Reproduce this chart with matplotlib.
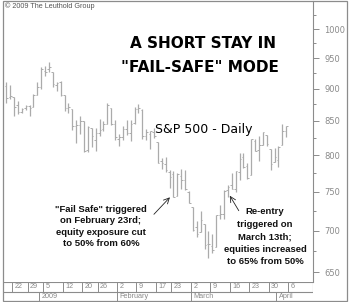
import matplotlib
matplotlib.use("Agg")
import matplotlib.pyplot as plt
from matplotlib.ticker import FixedLocator, NullFormatter, FixedFormatter
from matplotlib.patches import Rectangle
import numpy as np

# ---------------- data ----------------
dates = ["2008-12-18", "2008-12-19", "2008-12-22", "2008-12-23", "2008-12-24", "2008-12-26",
         "2008-12-29", "2008-12-30", "2008-12-31", "2009-01-02", "2009-01-05", "2009-01-06",
         "2009-01-07", "2009-01-08", "2009-01-09", "2009-01-12", "2009-01-13", "2009-01-14",
         "2009-01-15", "2009-01-16", "2009-01-20", "2009-01-21", "2009-01-22", "2009-01-23",
         "2009-01-26", "2009-01-27", "2009-01-28", "2009-01-29", "2009-01-30", "2009-02-02",
         "2009-02-03", "2009-02-04", "2009-02-05", "2009-02-06", "2009-02-09", "2009-02-10",
         "2009-02-11", "2009-02-12", "2009-02-13", "2009-02-17", "2009-02-18", "2009-02-19",
         "2009-02-20", "2009-02-23", "2009-02-24", "2009-02-25", "2009-02-26", "2009-02-27",
         "2009-03-02", "2009-03-03", "2009-03-04", "2009-03-05", "2009-03-06", "2009-03-09",
         "2009-03-10", "2009-03-11", "2009-03-12", "2009-03-13", "2009-03-16", "2009-03-17",
         "2009-03-18", "2009-03-19", "2009-03-20", "2009-03-23", "2009-03-24", "2009-03-25",
         "2009-03-26", "2009-03-27", "2009-03-30", "2009-03-31", "2009-04-01", "2009-04-02",
         "2009-04-03"]
opens = [904.0, 887.0, 887.2, 874.3, 863.9, 869.5, 872.4, 870.6, 890.6, 903.0, 929.2, 931.2,
         927.5, 905.7, 909.9, 890.4, 869.8, 867.3, 842.0, 844.5, 849.6, 806.8, 839.7, 822.2,
         832.5, 837.3, 845.7, 868.9, 845.7, 823.1, 825.7, 837.8, 831.8, 846.1, 868.2, 866.9,
         827.4, 829.9, 834.0, 818.6, 791.1, 787.9, 775.9, 773.3, 744.7, 770.6, 765.8, 749.9,
         729.6, 704.4, 698.6, 708.3, 684.0, 680.8, 679.3, 719.6, 720.9, 752.0, 758.8, 753.9,
         776.0, 797.9, 784.6, 772.3, 820.6, 806.8, 814.1, 828.7, 809.1, 790.9, 793.6, 814.5,
         835.1]
highs = [911.0, 905.5, 887.4, 880.4, 869.8, 873.7, 873.7, 891.1, 910.3, 934.7, 936.6, 943.9,
         927.5, 910.0, 911.9, 890.4, 877.0, 867.3, 851.6, 858.1, 849.6, 841.7, 839.7, 838.6,
         852.5, 850.5, 877.9, 868.9, 851.7, 830.8, 842.6, 851.9, 850.6, 870.8, 875.0, 868.1,
         838.2, 835.5, 839.4, 818.6, 796.2, 797.6, 778.7, 777.9, 775.5, 780.1, 779.4, 751.3,
         729.6, 711.7, 724.1, 708.3, 699.1, 695.3, 719.6, 731.9, 752.6, 758.3, 774.5, 778.1,
         803.0, 803.2, 788.9, 823.4, 823.7, 826.8, 833.0, 828.7, 809.1, 810.5, 813.6, 845.6,
         842.5]
lows = [877.4, 883.0, 857.1, 860.1, 861.4, 866.5, 857.1, 870.6, 889.3, 899.4, 919.5, 927.3,
        902.4, 896.8, 888.3, 864.3, 862.0, 836.9, 817.0, 830.7, 804.5, 804.3, 811.3, 806.1,
        827.7, 835.4, 845.7, 844.2, 821.7, 812.9, 822.0, 829.2, 819.9, 845.4, 861.7, 823.0,
        822.3, 808.1, 825.2, 789.2, 780.4, 777.0, 754.3, 742.4, 744.7, 752.9, 751.8, 734.5,
        699.7, 692.3, 698.6, 677.9, 666.8, 672.9, 679.3, 713.9, 714.8, 742.5, 753.4, 749.9,
        765.6, 781.8, 766.2, 772.3, 805.5, 791.4, 814.1, 813.4, 779.8, 790.9, 783.3, 814.5,
        826.7]
closes = [885.3, 887.9, 871.6, 863.2, 868.2, 872.8, 869.4, 890.6, 903.3, 931.8, 927.5, 934.7,
          906.7, 909.7, 890.4, 870.3, 871.8, 842.6, 843.7, 850.1, 805.2, 840.2, 827.5, 832.0,
          836.6, 845.7, 874.1, 845.1, 825.9, 825.4, 838.5, 832.2, 845.9, 868.6, 869.9, 827.2,
          833.7, 835.2, 826.8, 789.2, 788.4, 778.9, 770.1, 743.3, 773.1, 764.9, 752.8, 735.1,
          700.8, 696.3, 712.9, 682.6, 683.4, 676.5, 719.6, 721.4, 750.7, 756.6, 753.9, 778.1,
          794.4, 784.0, 768.5, 822.9, 806.1, 813.9, 832.9, 815.9, 787.5, 797.9, 811.1, 834.4,
          842.5]

week_dates = ["2008-12-22", "2008-12-29", "2009-01-05", "2009-01-12", "2009-01-20", "2009-01-26",
              "2009-02-02", "2009-02-09", "2009-02-17", "2009-02-23", "2009-03-02", "2009-03-09",
              "2009-03-16", "2009-03-23", "2009-03-30", "2009-04-06"]
week_labels = ["22", "29", "5", "12", "20", "26", "2", "9", "17", "23", "2", "9", "16", "23", "30", "6"]
month_dates = ["2009-01-02", "2009-02-02", "2009-03-02", "2009-04-01"]
month_labels = ["2009", "February", "March", "April"]
holidays = ["2008-12-25", "2009-01-01", "2009-01-19", "2009-02-16", "2009-04-10"]

y_major = [650, 700, 750, 800, 850, 900, 950, 1000]
y_minor = [675, 725, 775, 825, 875, 925, 975, 1025]

title_lines = ["A SHORT STAY IN", "\"FAIL-SAFE\" MODE"]
subtitle = "S&P 500 - Daily"
note1 = "\"Fail Safe\" triggered\non February 23rd;\nequity exposure cut\nto 50% from 60%"
note2 = "Re-entry\ntriggered on\nMarch 13th;\nequities increased\nto 65% from 50%"
copyright_txt = "\u00a9 2009 The Leuthold Group"

# ---------------- helpers ----------------
W, H = 350, 302
start = dates[0]


def pos(d):
    return float(np.busday_count(start, d, holidays=holidays))


xs = np.array([pos(d) for d in dates])
bar_col = "#ababab"
frame_col = "#8c8c8c"
label_col = "#8a8a8a"

fig = plt.figure(figsize=(W / 100, H / 100), dpi=100)
fig.patch.set_facecolor("white")

ax = fig.add_axes([3 / W, (H - 282) / H, 310 / W, 281 / H])
ax.set_yscale("log")
ax.set_xlim(-0.83, 78.9)
ax.set_ylim(639, 1051)

# OHLC bars
ax.vlines(xs, lows, highs, color=bar_col, lw=0.9)
ax.hlines(opens, xs - 0.4, xs, color=bar_col, lw=0.7)
ax.hlines(closes, xs, xs + 0.4, color=bar_col, lw=0.7)

ax.yaxis.set_major_locator(FixedLocator(y_major))
ax.yaxis.set_major_formatter(FixedFormatter([str(v) for v in y_major]))
ax.yaxis.set_minor_locator(FixedLocator(y_minor))
ax.yaxis.set_minor_formatter(NullFormatter())
ax.yaxis.tick_right()
ax.tick_params(axis="y", which="major", direction="out", length=4.5, width=0.7,
               colors=frame_col, labelsize=6, labelcolor=label_col, pad=3.5)
ax.tick_params(axis="y", which="minor", direction="out", length=2, width=0.7, colors=frame_col)
ax.set_xticks([])
for s in ["left", "top", "bottom"]:
    ax.spines[s].set_visible(False)
ax.spines["right"].set_color(frame_col)
ax.spines["right"].set_linewidth(0.8)

# date band
bx = fig.add_axes([3 / W, (H - 301) / H, 310 / W, 19 / H], sharex=ax)
bx.set_ylim(0, 19)
bx.set_xlim(-0.83, 78.9)
bx.axis("off")
bx.axhline(19, color=frame_col, lw=0.8)
bx.axhline(9, color=frame_col, lw=0.8)
for d, lab in zip(week_dates, week_labels):
    p = pos(d) - 0.5
    bx.vlines(p, 9, 19, color=frame_col, lw=0.7)
    bx.text(p + 0.6, 14, lab, fontsize=5.2, color=label_col, va="center", ha="left",
            family="Liberation Sans")
for d, lab in zip(month_dates, month_labels):
    p = pos(d) - 0.5
    bx.vlines(p, 0, 9, color=frame_col, lw=0.7)
    bx.text(p + 0.6, 4.3, lab, fontsize=5.2, color=label_col, va="center", ha="left",
            family="Liberation Sans")
bx.vlines(78.9, 9, 19, color=frame_col, lw=0.8)

# outer frame
fig.add_artist(Rectangle((3 / W, 1 / H), 344 / W, 300 / H, transform=fig.transFigure,
                         fill=False, edgecolor=frame_col, lw=0.9))

# texts
fig.text(5 / W, 1 - 6 / H, copyright_txt, fontsize=5.2, color="#555555", va="center",
         ha="left", family="Liberation Sans")
fig.text(203 / W, 1 - 44 / H, title_lines[0], fontsize=11, color="black", ha="center",
         va="center", family="DejaVu Sans", weight="bold")
fig.text(200 / W, 1 - 67 / H, title_lines[1], fontsize=11, color="black", ha="center",
         va="center", family="DejaVu Sans", weight="bold")
fig.text(203.5 / W, 1 - 129 / H, subtitle, fontsize=9, color="black", ha="center",
         va="center", family="DejaVu Sans")
fig.text(101 / W, 1 - 226.5 / H, note1, fontsize=6.8, color="#111111", ha="center",
         va="center", family="Liberation Sans", weight="bold", linespacing=1.35)
fig.text(265 / W, 1 - 237 / H, note2, fontsize=6.8, color="#111111", ha="center",
         va="center", family="Liberation Sans", weight="bold", linespacing=1.5)

i1 = dates.index("2009-02-23")
ax.annotate("", xy=(xs[i1] - 0.9, lows[i1]), xytext=(-16, -17), textcoords="offset pixels",
            arrowprops=dict(arrowstyle="->", lw=0.6, color="#222222", shrinkA=0, shrinkB=0))
i2 = dates.index("2009-03-13")
ax.annotate("", xy=(xs[i2] + 0.5, lows[i2] + 2), xytext=(9, -15), textcoords="offset pixels",
            arrowprops=dict(arrowstyle="->", lw=0.6, color="#222222", shrinkA=0, shrinkB=0))

fig.savefig("out.png", dpi=100)
